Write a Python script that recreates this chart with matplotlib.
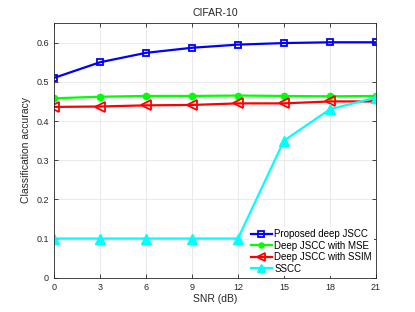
import numpy as np
from matplotlib import pyplot as plt

plt.rcParams['font.family'] = ['Liberation Sans', 'DejaVu Sans']

snr = [0, 3, 6, 9, 12, 15, 18, 21]
proposed = [0.510, 0.550, 0.574, 0.587, 0.595, 0.599, 0.601, 0.601]
jscc_mse = [0.458, 0.462, 0.464, 0.464, 0.465, 0.464, 0.463, 0.464]
jscc_ssim = [0.436, 0.437, 0.440, 0.441, 0.445, 0.445, 0.450, 0.450]
sscc = [0.1, 0.1, 0.1, 0.1, 0.1, 0.35, 0.43, 0.46]
labels = ['Proposed deep JSCC', 'Deep JSCC with MSE',
          'Deep JSCC with SSIM', 'SSCC']

fig = plt.figure(figsize=(4.15, 3.12), dpi=100)
ax = fig.add_axes([0.130, 0.110, 0.776, 0.816])

ax.plot(snr, proposed, color='#0000ff', marker='s', ms=5, mfc='none',
        mew=1.3, lw=1.6, label=labels[0])
ax.plot(snr, jscc_mse, color='#00ff00', marker='o', ms=4.5, lw=1.6,
        label=labels[1])
ax.plot(snr, jscc_ssim, color='#ff0000', marker='<', ms=6.5, mfc='none',
        mew=1.3, lw=1.6, label=labels[2])
ax.plot(snr, sscc, color='#00ffff', marker='^', ms=7, lw=1.6,
        label=labels[3])

ax.set_xlim(0, 21)
ax.set_ylim(0, 0.65)
ax.set_xticks(snr)
ax.set_yticks([0, 0.1, 0.2, 0.3, 0.4, 0.5, 0.6])
ax.set_yticklabels(['0', '0.1', '0.2', '0.3', '0.4', '0.5', '0.6'])
ax.grid(True, color='#e6e6e6', lw=0.6)
ax.set_axisbelow(True)
ax.tick_params(direction='in', length=3, width=0.6, colors='#262626',
               labelsize=6.5, top=True, right=True)
for s in ax.spines.values():
    s.set_color('#262626')
    s.set_linewidth(0.6)

ax.set_xlabel('SNR (dB)', fontsize=7.5, color='#262626', labelpad=2)
ax.set_ylabel('Classification accuracy', fontsize=7.5, color='#262626',
              labelpad=4)
ax.set_title('CIFAR-10', fontsize=7.5, color='#262626', pad=5)

leg = ax.legend(loc='lower right', fontsize=7, frameon=True,
                facecolor='white', edgecolor='none', fancybox=False,
                handlelength=2.2, handletextpad=0.25, borderpad=0.2,
                labelspacing=0.15, borderaxespad=0.2, markerscale=0.8)
leg.get_frame().set_alpha(1)

fig.savefig('out.png', dpi=100)
